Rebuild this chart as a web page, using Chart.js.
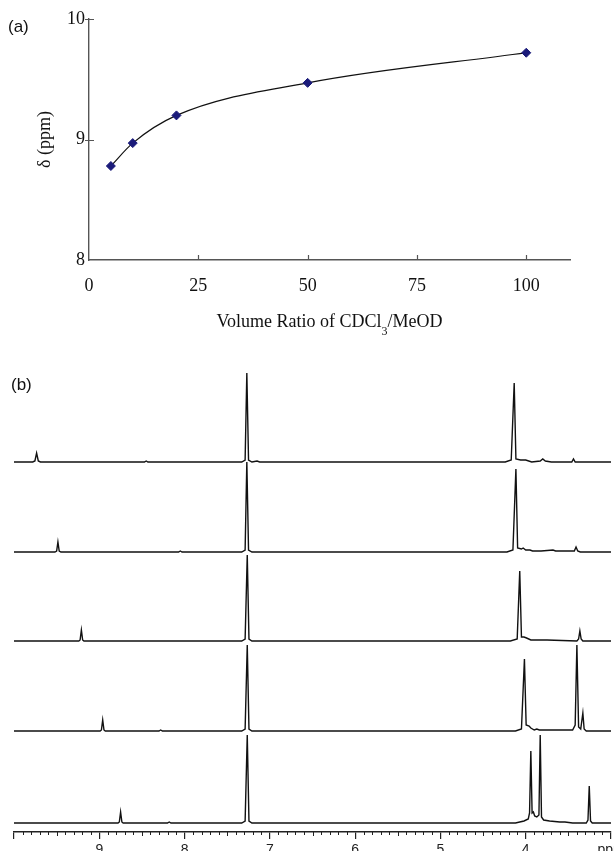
<!DOCTYPE html>
<html lang="en">
<head>
<meta charset="UTF-8">
<title>Chemical shift vs CDCl3/MeOD ratio</title>
<script src="https://cdn.jsdelivr.net/npm/chart.js"></script>
<style>
  body { margin: 0; background: #fff; }
  #page { position: relative; width: 614px; height: 851px; overflow: hidden; }
  canvas { position: absolute; left: 0; }
  .panel { position: absolute; font-family: "Liberation Sans", Arial, sans-serif; font-size: 17px; line-height: 17px; color: #111; }
  #xTitle { position: absolute; left: 89px; width: 481px; top: 312px; text-align: center;
    font-family: "Liberation Serif", "Times New Roman", serif; font-size: 18px; line-height: 18px; color: #111; }
  #xTitle sub { font-size: 12px; vertical-align: -8px; line-height: 0; }
</style>
</head>
<body>
<div id="page">
  <canvas id="shiftChart" width="614" height="340" style="top:0"></canvas>
  <canvas id="nmrChart" width="614" height="511" style="top:340px"></canvas>
  <div class="panel" style="left:8px;top:18px">(a)</div>
  <div class="panel" style="left:11px;top:376px">(b)</div>
  <div id="xTitle">Volume Ratio of CDCl<sub>3</sub>/MeOD</div>
</div>

<script>
// (a) chemical shift of OH vs CDCl3/MeOD ratio
const ratio = [5, 10, 20, 50, 100];
const shift = [8.78, 8.97, 9.20, 9.47, 9.72];
const ratioTicks = [0, 25, 50, 75, 100];
const shiftTicks = [8, 9, 10];

// (b) 1H NMR spectra, [ppm, intensity], top trace = 100:1 ... bottom = 5:1
const ppmTicks = [10, 9, 8, 7, 6, 5, 4, 3];
const ppmLabels = ['', '9', '8', '7', '6', '5', '4', 'ppm'];

const spec100 = [[10.00,0],[9.78,0],[9.755,1],[9.735,9],[9.715,1],[9.69,0],
  [8.47,0],[8.45,1],[8.43,0],
  [7.33,0],[7.29,2],[7.27,89],[7.25,2],[7.21,0],[7.15,1],[7.12,0],
  [4.24,0],[4.17,2],[4.135,79],[4.115,3],[4.06,2],[4.00,2],[3.93,0],[3.83,1],[3.80,3],[3.77,1],[3.70,0],
  [3.46,0],[3.44,3],[3.42,0],[3.00,0]];
const spec50 = [[10.00,0],[9.52,0],[9.50,1],[9.485,10],[9.47,1],[9.45,0],
  [8.07,0],[8.05,1],[8.03,0],
  [7.33,0],[7.29,2],[7.27,90],[7.25,2],[7.21,0],
  [4.22,0],[4.15,2],[4.115,83],[4.095,4],[4.05,3],[4.03,4],[4.00,2],[3.95,2],[3.92,1],[3.82,1],[3.68,2],[3.65,1],
  [3.43,1],[3.41,5],[3.39,1],[3.36,0],[3.00,0]];
const spec20 = [[10.00,0],[9.24,0],[9.225,1],[9.21,11],[9.195,1],[9.18,0],
  [7.33,0],[7.29,2],[7.265,86],[7.245,2],[7.21,0],
  [4.18,0],[4.10,2],[4.07,70],[4.05,4],[4.02,4],[3.99,3],[3.94,1],[3.80,1],[3.75,1],
  [3.40,0],[3.38,2],[3.365,10],[3.35,2],[3.33,0],[3.00,0]];
const spec10 = [[10.00,0],[8.99,0],[8.975,1],[8.96,11],[8.945,1],[8.93,0],
  [8.30,0],[8.28,1],[8.26,0],
  [7.33,0],[7.29,2],[7.265,86],[7.245,2],[7.21,0],
  [4.12,0],[4.05,2],[4.015,72],[3.995,6],[3.96,5],[3.94,3],[3.90,1],[3.87,2],[3.84,1],[3.62,1],[3.60,1],
  [3.45,1],[3.42,6],[3.40,86],[3.38,4],[3.355,2],[3.33,18],[3.315,2],[3.29,0],[3.00,0]];
const spec5 = [[10.00,0],[8.78,0],[8.765,1],[8.75,11],[8.735,1],[8.72,0],
  [8.20,0],[8.18,1],[8.16,0],
  [7.33,0],[7.29,2],[7.265,88],[7.245,2],[7.21,0],
  [4.12,0],[4.02,2],[3.97,4],[3.955,10],[3.94,72],[3.925,10],[3.91,11],[3.895,7],[3.87,6],[3.845,8],[3.83,88],
  [3.815,6],[3.79,3],[3.72,2],[3.60,1],[3.54,1],[3.45,0],[3.29,0],[3.27,3],[3.255,37],[3.24,2],[3.22,0],[3.00,0]];

const spectra = [spec100, spec50, spec20, spec10, spec5];

// layout: baseline of each trace, px above the ppm axis
const traceBase = [370, 280, 191, 101, 9];
const bandHeight = 450;

const serif = '"Liberation Serif", "Times New Roman", serif';
const ink = '#111';
const axisGrey = '#555';

// inward tick marks on panel (a)
const innerTicks = {
  id: 'innerTicks',
  afterDraw(chart) {
    const xs = chart.scales.x, ys = chart.scales.y, c = chart.ctx;
    c.save();
    c.strokeStyle = axisGrey;
    c.lineWidth = 1.2;
    c.beginPath();
    ratioTicks.forEach(v => {
      if (v === 0) return;
      const px = Math.round(xs.getPixelForValue(v)) + 0.5;
      c.moveTo(px, ys.bottom);
      c.lineTo(px, ys.bottom - 5);
    });
    shiftTicks.forEach(v => {
      if (v === shiftTicks[0]) return;
      const py = Math.round(ys.getPixelForValue(v)) + 0.5;
      c.moveTo(xs.left - 4, py);
      c.lineTo(xs.left + 5, py);
    });
    c.stroke();
    c.restore();
  }
};

// 0.1 ppm minor ticks on panel (b)
const minorTicks = {
  id: 'minorTicks',
  afterDraw(chart) {
    const s = chart.scales.x, c = chart.ctx;
    c.save();
    c.strokeStyle = '#222';
    c.lineWidth = 1;
    c.beginPath();
    for (let i = 30; i <= 100; i++) {
      if (i % 10 === 0) continue;
      const px = Math.round(s.getPixelForValue(i / 10)) + 0.5;
      c.moveTo(px, s.top);
      c.lineTo(px, s.top + (i % 5 === 0 ? 4 : 3));
    }
    c.stroke();
    c.restore();
  }
};

new Chart(document.getElementById('shiftChart'), {
  type: 'scatter',
  data: {
    datasets: [{
      data: ratio.map((r, i) => ({ x: r, y: shift[i] })),
      showLine: true,
      cubicInterpolationMode: 'monotone',
      borderColor: ink,
      borderWidth: 1.2,
      pointStyle: 'rectRot',
      pointRadius: 4.5,
      pointBackgroundColor: '#1b1b7a',
      pointBorderColor: '#1b1b7a',
      pointBorderWidth: 1
    }]
  },
  options: {
    responsive: false,
    animation: false,
    devicePixelRatio: 1,
    layout: { padding: { top: 19, right: 44, left: 0, bottom: 0 } },
    plugins: { legend: { display: false }, tooltip: { enabled: false } },
    scales: {
      x: {
        type: 'linear', min: 0, max: 110,
        afterBuildTicks: s => { s.ticks = ratioTicks.map(v => ({ value: v })); },
        afterFit: s => { s.height = 80; s.paddingLeft = 0; s.paddingRight = 0; },
        grid: { drawOnChartArea: false, drawTicks: false },
        border: { display: true, color: axisGrey, width: 1.4 },
        ticks: { padding: 15, color: ink, font: { family: serif, size: 18 }, maxRotation: 0 }
      },
      y: {
        min: 8, max: 10,
        afterBuildTicks: s => { s.ticks = shiftTicks.map(v => ({ value: v })); },
        afterFit: s => { s.width = 89; s.paddingTop = 0; s.paddingBottom = 0; },
        grid: { drawOnChartArea: false, drawTicks: false },
        border: { display: true, color: axisGrey, width: 1.4 },
        ticks: { padding: 4, color: ink, font: { family: serif, size: 18 } },
        title: { display: true, text: 'δ (ppm)', color: ink, font: { family: serif, size: 18 }, padding: { top: 34, bottom: 0 } }
      }
    }
  },
  plugins: [innerTicks]
});

const nmrScales = {
  x: {
    type: 'linear', reverse: true, min: 3, max: 10,
    afterBuildTicks: s => { s.ticks = ppmTicks.map(v => ({ value: v })); },
    afterFit: s => { s.height = 19; s.paddingLeft = 0; s.paddingRight = 0; },
    grid: { drawOnChartArea: false, drawTicks: true, tickLength: 7, color: '#222', lineWidth: 1.2 },
    border: { display: true, color: '#222', width: 1.4 },
    ticks: {
      padding: 3, color: '#222', autoSkip: false, maxRotation: 0,
      font: { family: '"Liberation Sans", Arial, sans-serif', size: 14 },
      callback: v => ppmLabels[ppmTicks.indexOf(v)]
    }
  }
};
spectra.forEach((s, i) => {
  nmrScales['y' + i] = { type: 'linear', display: false, min: -traceBase[i], max: bandHeight - traceBase[i] };
});

new Chart(document.getElementById('nmrChart'), {
  type: 'line',
  data: {
    datasets: spectra.map((s, i) => ({
      data: s.map(p => ({ x: p[0], y: p[1] })),
      yAxisID: 'y' + i,
      borderColor: ink,
      borderWidth: 1.4,
      pointRadius: 0,
      tension: 0,
      fill: false,
      clip: false
    }))
  },
  options: {
    responsive: false,
    animation: false,
    devicePixelRatio: 1,
    layout: { padding: { top: 42, right: 3, left: 14, bottom: 0 } },
    plugins: { legend: { display: false }, tooltip: { enabled: false } },
    scales: nmrScales
  },
  plugins: [minorTicks]
});
</script>
</body>
</html>
